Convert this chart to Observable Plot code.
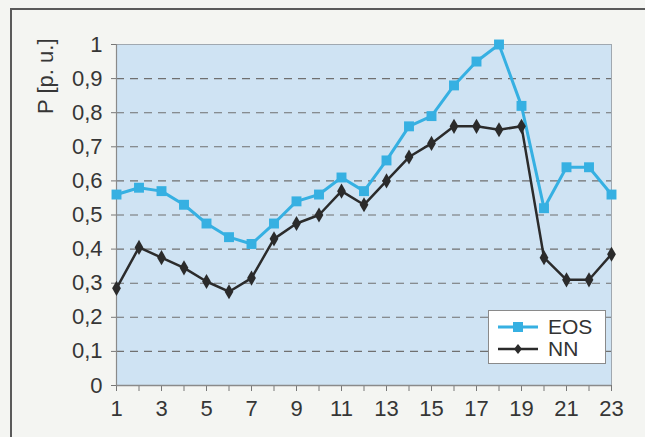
<!DOCTYPE html>
<html>
<head>
<meta charset="utf-8">
<script src="https://cdn.jsdelivr.net/npm/d3@7"></script>
<script src="https://cdn.jsdelivr.net/npm/@observablehq/plot@0.6"></script>
<style>
  html, body { margin: 0; padding: 0; background: #f4f5f2; }
  #wrap { position: relative; width: 645px; height: 437px; overflow: hidden; font-family: "Liberation Sans", Arial, sans-serif; }
  #frame { position: absolute; left: 10px; top: 8px; width: 700px; height: 500px; border-top: 2px solid #5a5a5a; border-left: 2px solid #5a5a5a; pointer-events: none; }
  #legend { position: absolute; left: 488px; top: 310px; width: 116px; height: 52px; background: #fff; border: 1px solid #8a8a8a; font-size: 21px; line-height: 21px; color: #333; }
  #legend .row { position: absolute; left: 9px; display: flex; align-items: center; height: 21px; line-height: 21px; }
  #legend svg { margin-right: 10px; display: block; }
</style>
</head>
<body>
<div id="wrap">
  <div id="chart"></div>
  <div id="frame"></div>
  <div id="legend"></div>
</div>
<script>
const hours = d3.range(1, 24);
const eos = [0.56, 0.58, 0.57, 0.53, 0.475, 0.435, 0.415, 0.475, 0.54, 0.56, 0.61, 0.57, 0.66, 0.76, 0.79, 0.88, 0.95, 1.0, 0.82, 0.52, 0.64, 0.64, 0.56];
const nn = [0.285, 0.405, 0.375, 0.345, 0.305, 0.275, 0.315, 0.43, 0.475, 0.50, 0.57, 0.53, 0.60, 0.67, 0.71, 0.76, 0.76, 0.75, 0.76, 0.375, 0.31, 0.31, 0.385];
const yTicks = [0, 0.1, 0.2, 0.3, 0.4, 0.5, 0.6, 0.7, 0.8, 0.9, 1];
const gridTicks = [0.1, 0.2, 0.3, 0.4, 0.5, 0.6, 0.7, 0.8, 0.9];
const xTickLabels = [1, 3, 5, 7, 9, 11, 13, 15, 17, 19, 21, 23];
const yLabel = "P [p. u.]";
const seriesNames = ["EOS", "NN"];

const EOS_COLOR = "#36b0e2";
const NN_COLOR = "#2b2b2b";

const eosData = hours.map((h, i) => ({h, v: eos[i]}));
const nnData = hours.map((h, i) => ({h, v: nn[i]}));

const chart = Plot.plot({
  width: 645,
  height: 437,
  marginLeft: 116,
  marginRight: 34,
  marginTop: 44,
  marginBottom: 52,
  style: {background: "transparent", fontFamily: "Liberation Sans, Arial, sans-serif", fontSize: "22px", color: "#363636"},
  x: {domain: [1, 23]},
  y: {domain: [0, 1]},
  marks: [
    Plot.frame({fill: "#cfe3f3", stroke: "#a0a8b0", strokeWidth: 1}),
    Plot.gridY(gridTicks, {stroke: "#707070", strokeOpacity: 1, strokeWidth: 1.1, strokeDasharray: "8,6"}),
    Plot.axisY({ticks: yTicks, tickFormat: d => String(d).replace(".", ","), tickSize: 5, tickPadding: 9, label: null, stroke: "#777", fontSize: 22}),
    Plot.axisX({ticks: hours, tickFormat: d => xTickLabels.includes(d) ? String(d) : "", tickSize: 6, tickPadding: 9, label: null, stroke: "#777", fontSize: 22}),
    Plot.ruleX([1], {stroke: "#8a8a8a", strokeWidth: 1.2}),
    Plot.ruleY([0], {stroke: "#8a8a8a", strokeWidth: 1.5}),
    Plot.line(eosData, {x: "h", y: "v", stroke: EOS_COLOR, strokeWidth: 3}),
    Plot.dot(eosData, {x: "h", y: "v", symbol: "square", fill: EOS_COLOR, r: 5.6, stroke: "none"}),
    Plot.line(nnData, {x: "h", y: "v", stroke: NN_COLOR, strokeWidth: 2.5}),
    Plot.dot(nnData, {x: "h", y: "v", symbol: "diamond", fill: NN_COLOR, r: 4.6, stroke: "none"}),
    Plot.text([yLabel], {frameAnchor: "top-left", dx: -71, dy: -6, rotate: -90, textAnchor: "end", lineAnchor: "middle", fontSize: 22, fill: "#363636"})
  ]
});
document.getElementById("chart").appendChild(chart);

// legend
const legend = document.getElementById("legend");
const sw = [
  {name: seriesNames[0], color: EOS_COLOR, shape: "square", lw: 3},
  {name: seriesNames[1], color: NN_COLOR, shape: "diamond", lw: 2.5}
];
sw.forEach((s, i) => {
  const row = document.createElement("div");
  row.className = "row";
  row.style.top = (5 + i * 22) + "px";
  const marker = s.shape === "square"
    ? `<rect x="15" y="5" width="10" height="10" fill="${s.color}"/>`
    : `<path d="M20,5 L24,10 L20,15 L16,10 Z" fill="${s.color}"/>`;
  row.innerHTML = `<svg width="40" height="20"><line x1="0" x2="40" y1="10" y2="10" stroke="${s.color}" stroke-width="${s.lw}"/>${marker}</svg><span>${s.name}</span>`;
  legend.appendChild(row);
});
</script>
</body>
</html>
